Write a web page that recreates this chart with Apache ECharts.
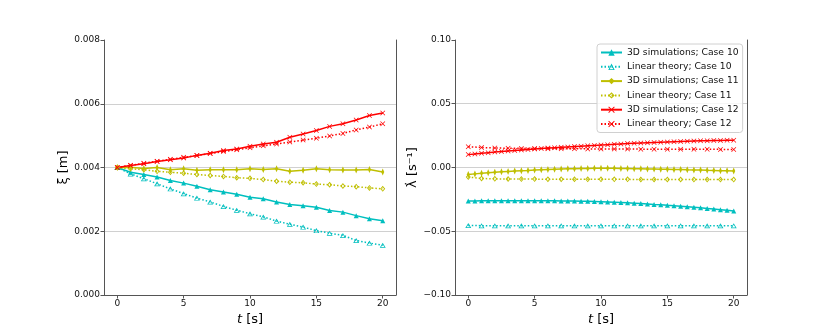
<!DOCTYPE html>
<html lang="en">
<head>
    <meta charset="UTF-8">
    <title>xi and lambda-dot</title>
    <script src="https://cdn.jsdelivr.net/npm/echarts@6/dist/echarts.min.js"></script>
</head>
<style>
    *{
        margin: 0;
        padding: 0;
    }
    html , body{
        overflow: hidden;
        height: 100%;
        width: 100%;
        background: #fff;
    }
    .contain{
        width: 830px;
        height: 332px;
    }
</style>
<body>
<div class="contain"></div>
<script>
    // time axes
    const tCoarse = [0,1,2,3,4,5,6,7,8,9,10,11,12,13,14,15,16,17,18,19,20];
    const tFine = [0,0.5,1,1.5,2,2.5,3,3.5,4,4.5,5,5.5,6,6.5,7,7.5,8,8.5,9,9.5,10,
        10.5,11,11.5,12,12.5,13,13.5,14,14.5,15,15.5,16,16.5,17,17.5,18,18.5,19,19.5,20];
    const xTicks = [0,5,10,15,20];

    const names = ['3D simulations; Case 10','Linear theory; Case 10',
        '3D simulations; Case 11','Linear theory; Case 11',
        '3D simulations; Case 12','Linear theory; Case 12'];

    // left panel: xi [m]
    const xiSim10 = [0.004,0.00385,0.00378,0.0037,0.00359,0.00351,0.00341,0.0033,0.00323,0.00316,0.00307,
        0.00302,0.00292,0.00284,0.0028,0.00275,0.00265,0.0026,0.00249,0.00239,0.00233];
    const xiLin10 = [0.004,0.0038,0.00365,0.00349,0.00333,0.00318,0.00304,0.00292,0.00278,0.00266,0.00255,
        0.00245,0.00232,0.00222,0.00213,0.00202,0.00194,0.00187,0.00171,0.00163,0.00156];
    const xiSim11 = [0.004,0.00401,0.00397,0.004,0.00393,0.00396,0.00391,0.00393,0.00393,0.00393,0.00396,
        0.00394,0.00396,0.00388,0.00391,0.00396,0.00393,0.00392,0.00392,0.00394,0.00386];
    const xiLin11 = [0.004,0.00396,0.00393,0.00388,0.00385,0.00382,0.00378,0.00375,0.00372,0.00368,0.00366,
        0.00362,0.00357,0.00354,0.00352,0.00348,0.00346,0.00342,0.0034,0.00336,0.00333];
    const xiSim12 = [0.004,0.00406,0.00412,0.00419,0.00424,0.0043,0.00438,0.00445,0.00453,0.00458,0.00467,
        0.00474,0.00479,0.00495,0.00505,0.00516,0.00529,0.00537,0.00549,0.00563,0.00571];
    const xiLin12 = [0.004,0.00407,0.00413,0.0042,0.00426,0.00432,0.00438,0.00444,0.0045,0.00456,0.00462,
        0.00468,0.00474,0.0048,0.00486,0.00492,0.00499,0.00507,0.00518,0.00527,0.00537];

    // right panel: lambda-dot [1/s]
    const ldSim10 = [-0.0262,-0.0262,-0.0261,-0.0261,-0.0261,-0.026,-0.026,-0.026,-0.026,-0.026,-0.026,
        -0.0261,-0.0261,-0.0261,-0.0262,-0.0262,-0.0263,-0.0264,-0.0265,-0.0266,-0.0268,
        -0.027,-0.0272,-0.0274,-0.0277,-0.028,-0.0283,-0.0286,-0.029,-0.0293,-0.0297,
        -0.03,-0.0304,-0.0308,-0.0312,-0.0316,-0.0321,-0.0326,-0.0331,-0.0336,-0.0341];
    const ldLin10 = [-0.0455,-0.0456,-0.0456,-0.0456,-0.0456,-0.0456,-0.0456,-0.0456,-0.0456,-0.0456,-0.0456,
        -0.0456,-0.0456,-0.0456,-0.0456,-0.0456,-0.0456,-0.0456,-0.0456,-0.0456,-0.0456];
    const ldSim11 = [-0.0055,-0.005,-0.0045,-0.0041,-0.0037,-0.0034,-0.0031,-0.0028,-0.0025,-0.0023,-0.002,
        -0.0018,-0.0016,-0.0014,-0.0012,-0.001,-0.0009,-0.0008,-0.0007,-0.0006,-0.0006,
        -0.0006,-0.0006,-0.0007,-0.0008,-0.0009,-0.001,-0.0011,-0.0012,-0.0013,-0.0014,
        -0.0015,-0.0016,-0.0018,-0.0019,-0.002,-0.0022,-0.0023,-0.0025,-0.0026,-0.0028];
    const ldLin11 = [-0.0075,-0.0086,-0.0089,-0.009,-0.0091,-0.0091,-0.0092,-0.0092,-0.0092,-0.0093,-0.0093,
        -0.0093,-0.0093,-0.0094,-0.0094,-0.0094,-0.0094,-0.0095,-0.0095,-0.0095,-0.0095];
    const ldSim12 = [0.0101,0.0106,0.0111,0.0116,0.0121,0.0126,0.013,0.0134,0.0138,0.0142,0.0146,
        0.0149,0.0152,0.0155,0.0158,0.0161,0.0164,0.0167,0.017,0.0173,0.0176,
        0.0179,0.0182,0.0185,0.0188,0.019,0.0192,0.0194,0.0196,0.0198,0.02,
        0.0202,0.0204,0.0206,0.0208,0.0209,0.021,0.0211,0.0212,0.0213,0.0214];
    const ldLin12 = [0.0163,0.0157,0.0153,0.0151,0.015,0.0149,0.0148,0.0147,0.0147,0.0146,0.0146,
        0.0145,0.0145,0.0144,0.0144,0.0144,0.0143,0.0143,0.0143,0.0142,0.0142];

    const font = 'DejaVu Sans';
    const teal = '#00bfbf', olive = '#bfbf00', red = '#ff0000';
    // marker shapes (hollow ones cut with a reversed inner path)
    const xShape = 'path://M0,1L1,0L5,4L9,0L10,1L6,5L10,9L9,10L5,6L1,10L0,9L4,5Z';
    const hollowTri = 'path://M5,0L10,9L0,9ZM5,3L2.2,7.8L7.8,7.8Z';
    const hollowDia = 'path://M5,0L10,5L5,10L0,5ZM5,2.4L2.4,5L5,7.6L7.6,5Z';
    const dots = [1.5, 2];

    const styles = [
        {color: teal, symbol: 'triangle', size: 5, dotted: false},
        {color: teal, symbol: hollowTri, size: [6, 5], dotted: true},
        {color: olive, symbol: 'diamond', size: [3, 7], dotted: false},
        {color: olive, symbol: hollowDia, size: [5, 6], dotted: true},
        {color: red, symbol: xShape, size: 5, dotted: false},
        {color: red, symbol: xShape, size: 5, dotted: true}
    ];

    const zip = (ts, vs) => vs.map((v, i) => [ts[i], v]);

    const leftData = [zip(tCoarse, xiSim10), zip(tCoarse, xiLin10), zip(tCoarse, xiSim11),
        zip(tCoarse, xiLin11), zip(tCoarse, xiSim12), zip(tCoarse, xiLin12)];
    const rightData = [zip(tFine, ldSim10), zip(tCoarse, ldLin10), zip(tFine, ldSim11),
        zip(tCoarse, ldLin11), zip(tFine, ldSim12), zip(tCoarse, ldLin12)];

    let series = [];
    function addSeries(dataList, axisIdx) {
        dataList.forEach((d, i) => {
            let s = styles[i];
            series.push({
                name: names[i],
                type: 'line',
                xAxisIndex: axisIdx,
                yAxisIndex: axisIdx * 2,
                data: d,
                symbol: s.symbol,
                symbolSize: s.size,
                showAllSymbol: true,
                animation: false,
                itemStyle: {color: s.color, borderWidth: 0},
                lineStyle: {color: s.color, width: 1.5, type: s.dotted ? dots : 'solid'}
            });
        });
    }
    addSeries(leftData, 0);
    addSeries(rightData, 1);

    const axisGray = '#555';
    function xAx(gridIndex) {
        return {
            type: 'value', gridIndex, min: -1, max: 21,
            name: '{i|t} [s]', nameLocation: 'middle', nameGap: 12,
            nameTextStyle: {fontFamily: font, fontSize: 13, color: '#000',
                rich: {i: {fontFamily: font, fontSize: 13, fontStyle: 'italic', color: '#000'}}},
            axisLine: {show: true, onZero: false, lineStyle: {color: axisGray, width: 1}},
            axisTick: {show: true, length: 3.5, customValues: xTicks, lineStyle: {color: axisGray}},
            axisLabel: {customValues: xTicks, fontFamily: font, fontSize: 9, color: '#111', margin: 4},
            splitLine: {show: false}
        };
    }
    function yAx(gridIndex, min, max, interval, name, fmt, gap) {
        return {
            type: 'value', gridIndex, min, max, interval,
            name, nameLocation: 'middle', nameGap: gap, nameRotate: 90,
            nameTextStyle: {fontFamily: font, fontSize: 13, color: '#000'},
            axisLine: {show: true, onZero: false, lineStyle: {color: axisGray, width: 1}},
            axisTick: {show: true, length: 3.5, lineStyle: {color: axisGray}},
            axisLabel: {fontFamily: font, fontSize: 9, color: '#111', margin: 4, formatter: fmt},
            splitLine: {show: true, showMinLine: false, showMaxLine: false, lineStyle: {color: '#d0d0d0', width: 1}}
        };
    }
    function spine(gridIndex, min, max) {
        return {
            type: 'value', gridIndex, min, max, position: 'right',
            axisLine: {show: true, onZero: false, lineStyle: {color: axisGray, width: 1}},
            axisTick: {show: false}, axisLabel: {show: false}, splitLine: {show: false}
        };
    }

    let chart = echarts.init(document.querySelector('.contain'));
    chart.setOption({
        backgroundColor: '#fff',
        animation: false,
        grid: [
            {left: 104, top: 40, width: 292, height: 255},
            {left: 455, top: 40, width: 292, height: 255}
        ],
        xAxis: [xAx(0), xAx(1)],
        yAxis: [
            yAx(0, 0, 0.008, 0.002, 'ξ [m]', v => v.toFixed(3), 29),
            spine(0, 0, 0.008),
            yAx(1, -0.1, 0.1, 0.05, 'λ̇ [s⁻¹]', v => v.toFixed(2).replace('-', '\u2212'), 24),
            spine(1, -0.1, 0.1)
        ],
        legend: {
            data: names,
            orient: 'vertical',
            left: 597, top: 44,
            padding: [4, 4, 4, 3],
            itemWidth: 21, itemHeight: 8, itemGap: 5.3, itemTextGap: 6,
            backgroundColor: 'rgba(255,255,255,0.8)',
            borderColor: '#d0d0d0', borderWidth: 1, borderRadius: 3,
            textStyle: {fontFamily: font, fontSize: 9.2, color: '#111'}
        },
        series
    });
</script>
</body>
</html>
